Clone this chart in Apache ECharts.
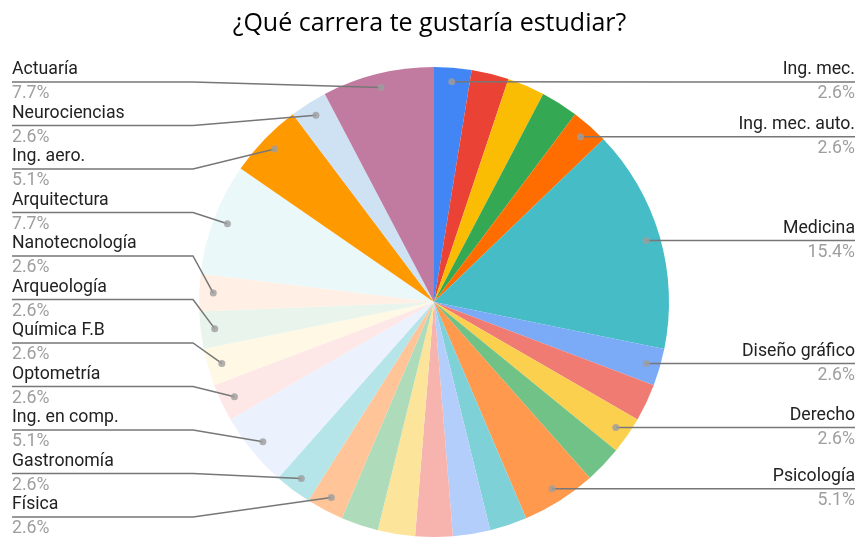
<!DOCTYPE html>
<html>
<head>
<meta charset="utf-8">
<script src="https://cdn.jsdelivr.net/npm/echarts@6/dist/echarts.min.js"></script>
<style>
  html, body { margin: 0; padding: 0; background: #fff; }
  #chart { width: 859px; height: 545px; }
</style>
</head>
<body>
<div id="chart"></div>
<script>
// ---- data ----
const title = '¿Qué carrera te gustaría estudiar?';
// slices in clockwise order from 12 o'clock; '' = slice whose label is not shown in the picture
const categories = ['Ing. mec.', '', '', '', 'Ing. mec. auto.', 'Medicina', 'Diseño gráfico', '', 'Derecho', '',
  'Psicología', '', '', '', '', '', 'Física', 'Gastronomía', 'Ing. en comp.', 'Optometría',
  'Química F.B', 'Arqueología', 'Nanotecnología', 'Arquitectura', 'Ing. aero.', 'Neurociencias', 'Actuaría'];
const counts = [1, 1, 1, 1, 1, 6, 1, 1, 1, 1,
  2, 1, 1, 1, 1, 1, 1, 1, 2, 1,
  1, 1, 1, 3, 2, 1, 3];
const palette = ['#4285F4', '#EA4335', '#FBBC04', '#34A853', '#FF6D01', '#46BDC6', '#7BAAF7', '#F07B72', '#FCD04F', '#71C287',
  '#FF994D', '#7ED1D7', '#B3CEFB', '#F7B4AE', '#FDE49B', '#AEDCBA', '#FFC599', '#B5E5E8', '#EBF1FD', '#FDE8E7',
  '#FFF8E5', '#E9F5EC', '#FFEFE4', '#EBF8F9', '#FF9900', '#CFE2F3', '#C27BA0'];

// ---- layout constants ----
const CX = 434, CY = 302, R = 235, DOT = 0.94;
const LEFT_X = 12, RIGHT_X = 855;          // label margins
const LINE_TOP = 82, LINE_BOTTOM = 517;     // range of leader-line rows
const total = counts.reduce((a, b) => a + b, 0);

// mid positions of slices (in value units) and which side their label goes
const mids = [];
let acc = 0;
counts.forEach(v => { mids.push(acc + v / 2); acc += v; });
const leftIdx = [];
categories.forEach((n, i) => { if (n !== '' && mids[i] > total / 2) leftIdx.push(i); });
leftIdx.sort((a, b) => b - a); // top to bottom
const leftStep = (LINE_BOTTOM - LINE_TOP) / (leftIdx.length - 1);

const baseData = categories.map((name, i) => ({
  name: name, value: counts[i], itemStyle: { color: palette[i] }
}));
const labelData = categories.map((name, i) => {
  const shown = name !== '';
  return {
    name: name, value: counts[i],
    label: { show: shown },
    labelLine: { show: shown }
  };
});
const dots = [];
categories.forEach((n, i) => { if (n !== '') dots.push([DOT, mids[i]]); });

const chart = echarts.init(document.getElementById('chart'), null, { renderer: 'canvas' });
chart.setOption({
  animation: false,
  backgroundColor: '#ffffff',
  title: {
    text: title,
    left: 'center',
    top: 6,
    textStyle: { fontFamily: 'Open Sans', fontSize: 25, fontWeight: 'normal', color: '#000000' }
  },
  polar: { center: [CX, CY], radius: R },
  angleAxis: { type: 'value', min: 0, max: total, startAngle: 90, clockwise: true, show: false },
  radiusAxis: { type: 'value', min: 0, max: 1, show: false },
  series: [
    {
      type: 'pie',
      center: [CX, CY],
      radius: R,
      startAngle: 90,
      clockwise: true,
      data: baseData,
      itemStyle: { borderWidth: 0 },
      label: { show: false },
      labelLine: { show: false },
      emphasis: { disabled: true },
      silent: true,
      z: 1
    },
    {
      type: 'pie',
      center: [CX, CY],
      radius: R,
      startAngle: 90,
      clockwise: true,
      avoidLabelOverlap: false,
      minShowLabelAngle: 0,
      data: labelData,
      itemStyle: { color: 'rgba(0,0,0,0)', borderWidth: 0 },
      emphasis: { disabled: true },
      silent: true,
      z: 3,
      label: {
        position: 'outside',
        alignTo: 'edge',
        edgeDistance: 12,
        formatter: p => '{n|' + p.name + '}\n{p|' + p.percent.toFixed(1) + '%}',
        rich: {
          n: { fontFamily: 'Roboto', fontSize: 17.7, color: '#222222', lineHeight: 24 },
          p: { fontFamily: 'Roboto', fontSize: 17.7, color: '#9e9e9e', lineHeight: 24 }
        }
      },
      labelLine: {
        length: 8,
        length2: 8,
        lineStyle: { color: '#777777', width: 1.5 }
      },
      labelLayout: function (p) {
        if (!p.labelLinePoints) return {};
        const i = p.dataIndex;
        const pts = p.labelLinePoints;
        const isLeft = mids[i] > total / 2;
        const s = pts[0];
        const start = [CX + (s[0] - CX) * DOT, CY + (s[1] - CY) * DOT];
        let ly;
        if (isLeft) {
          ly = LINE_TOP + leftIdx.indexOf(i) * leftStep;
        } else {
          ly = Math.max(LINE_TOP, start[1]);
        }
        const rc = p.labelRect;
        const dy = ly - (rc.y + rc.height / 2);
        const dx = isLeft ? LEFT_X - rc.x : RIGHT_X - (rc.x + rc.width);
        const bend = [isLeft ? CX - R - 6 : CX + R + 6, ly];
        const end = [isLeft ? LEFT_X : RIGHT_X, ly];
        return { dx: dx, dy: dy, labelLinePoints: [start, bend, end] };
      }
    },
    {
      type: 'scatter',
      coordinateSystem: 'polar',
      data: dots,
      symbol: 'circle',
      symbolSize: 7,
      itemStyle: { color: '#9e9e9e' },
      silent: true,
      z: 5
    }
  ]
});
</script>
</body>
</html>
